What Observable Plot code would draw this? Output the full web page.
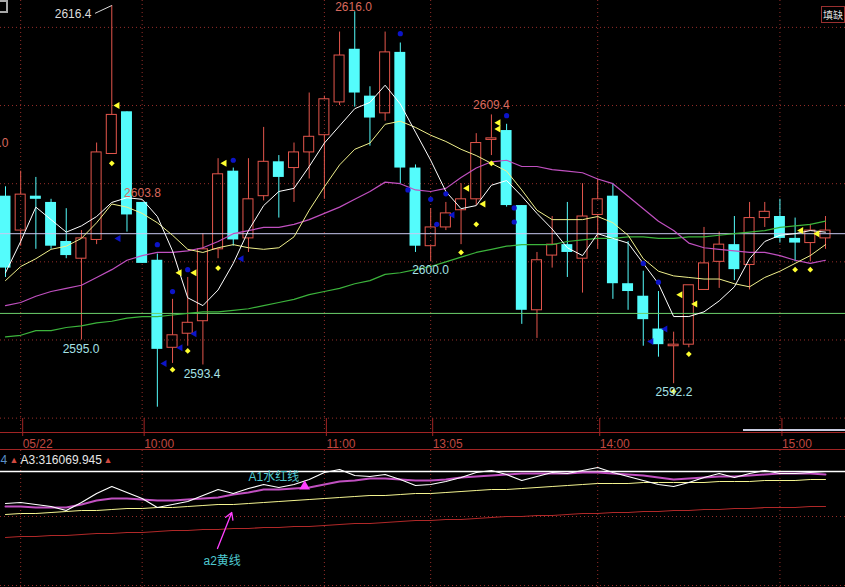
<!DOCTYPE html>
<html><head><meta charset="utf-8">
<script src="https://cdn.jsdelivr.net/npm/d3@7"></script>
<script src="https://cdn.jsdelivr.net/npm/@observablehq/plot@0.6"></script>
<style>
html,body{margin:0;padding:0;background:#000;overflow:hidden}
#wrap{position:relative;width:845px;height:587px;background:#000;overflow:hidden;font-family:"Liberation Sans",Arial,"Noto Sans CJK SC",sans-serif}
#main{position:absolute;left:0;top:0}
#ind{position:absolute;left:0;top:449px;border-top:1px solid #a02424}
#btnL{position:absolute;left:-8px;top:0;width:12px;height:9px;border:2px solid #a8a8a8}
#btnR{position:absolute;left:821px;top:6px;height:15px;padding:0 1px;border:1px solid #9a3030;color:#dcdcdc;font-size:10px;line-height:15px;white-space:nowrap;font-family:"Noto Sans CJK SC",sans-serif}
#scroll{position:absolute;left:743px;top:429px;width:102px;height:2px;background:#c8cce0}
</style></head><body>
<div id="wrap"><div id="main"></div><div id="ind"></div><div id="btnL"></div><div id="btnR">填缺</div><div id="scroll"></div></div>
<script>
// ---- candles (5-minute bars) ----
const opens  = [2604.2,2602.0,2604.2,2603.8,2601.3,2600.2,2601.4,2606.9,2609.6,2603.8,2600.1,2594.5,2595.4,2596.2,2600.8,2605.8,2601.5,2604.2,2606.4,2606.0,2607.0,2608.1,2610.2,2613.6,2610.6,2609.5,2613.4,2606.0,2601.0,2602.2,2603.3,2604.0,2607.8,2608.4,2603.6,2596.9,2600.4,2601.1,2600.2,2603.0,2604.2,2598.6,2597.8,2595.7,2594.6,2594.7,2598.2,2600.0,2601.1,2599.8,2602.8,2602.9,2601.5,2601.2,2601.5];
const highs  = [2604.8,2605.8,2605.4,2604.0,2603.4,2602.0,2607.6,2616.4,2609.6,2603.8,2600.5,2597.6,2599.0,2601.8,2606.6,2606.0,2606.6,2608.6,2606.8,2607.6,2610.8,2610.6,2614.7,2616.0,2611.2,2614.7,2614.0,2606.2,2603.4,2603.8,2605.0,2608.2,2609.4,2608.8,2603.6,2600.6,2602.9,2603.8,2605.0,2605.3,2605.0,2601.3,2599.4,2598.1,2595.5,2598.5,2602.2,2601.9,2602.9,2603.8,2603.8,2604.0,2602.8,2602.4,2602.9];
const lows   = [2599.0,2601.0,2600.8,2600.8,2600.2,2595.0,2601.1,2606.9,2601.9,2599.9,2590.7,2593.5,2594.6,2593.4,2600.2,2601.0,2600.6,2603.9,2602.8,2603.8,2605.3,2604.0,2610.0,2609.9,2607.4,2609.0,2605.0,2600.6,2600.0,2602.0,2601.1,2603.6,2606.8,2603.5,2596.0,2595.1,2599.6,2599.0,2598.0,2600.8,2597.6,2596.9,2594.6,2593.9,2592.2,2594.5,2598.2,2598.3,2598.8,2598.2,2602.2,2601.2,2600.0,2600.0,2600.8];
const closes = [2599.6,2604.3,2604.0,2601.0,2600.4,2601.5,2607.0,2609.4,2603.0,2599.9,2594.4,2595.3,2596.1,2600.8,2605.6,2601.4,2604.0,2606.4,2605.4,2607.0,2608.0,2610.4,2613.2,2610.8,2609.2,2613.4,2606.0,2601.0,2602.2,2603.1,2604.0,2607.6,2607.9,2603.6,2596.9,2600.1,2601.1,2600.6,2602.9,2604.0,2598.6,2598.1,2596.3,2594.7,2594.7,2598.5,2599.9,2601.1,2599.5,2602.8,2603.2,2601.5,2601.2,2602.0,2602.0];
// ---- moving-average lines ----
const maWhite  = [2599.3,2601.3,2603.5,2602.7,2601.9,2602.3,2602.9,2603.8,2604.1,2604.0,2602.9,2600.7,2597.7,2597.2,2598.2,2599.9,2602.0,2603.6,2604.5,2604.7,2606.1,2607.6,2608.7,2609.8,2610.2,2611.3,2610.1,2608.3,2606.5,2604.5,2603.4,2603.6,2604.9,2605.2,2604.2,2603.1,2602.1,2600.9,2600.4,2601.8,2601.5,2601.2,2599.9,2598.6,2596.5,2596.5,2596.8,2597.5,2598.4,2600.2,2601.3,2601.7,2601.8,2602.0,2601.9];
const maYellow = [2598.8,2599.7,2600.2,2600.8,2601.0,2601.5,2602.5,2603.7,2603.5,2603.1,2602.5,2601.7,2600.8,2600.6,2600.9,2601.1,2600.9,2600.8,2600.9,2601.6,2603.3,2604.8,2606.2,2607.2,2607.6,2608.8,2609.0,2608.6,2608.1,2607.7,2607.2,2606.8,2606.3,2605.8,2604.6,2603.3,2602.7,2602.7,2602.7,2602.9,2602.5,2601.7,2600.2,2599.4,2599.1,2599.0,2598.9,2598.9,2598.6,2598.4,2599.0,2599.4,2599.9,2600.4,2601.1];
const maPurple = [2597.2,2597.4,2597.8,2598.1,2598.3,2598.5,2599.0,2599.5,2600.1,2600.4,2600.6,2600.6,2600.7,2600.9,2601.3,2601.8,2602.0,2602.2,2602.2,2602.4,2602.7,2603.1,2603.5,2604.0,2604.5,2605.1,2605.0,2604.6,2604.5,2604.7,2605.4,2606.0,2606.4,2606.5,2606.1,2606.1,2605.9,2605.8,2605.7,2605.3,2605.0,2604.2,2603.4,2602.6,2602.0,2601.2,2600.9,2600.8,2600.7,2600.6,2600.6,2600.4,2600.1,2599.9,2600.1];
const maGreen  = [2595.2,2595.3,2595.6,2595.6,2595.8,2595.9,2596.1,2596.2,2596.4,2596.5,2596.5,2596.6,2596.7,2596.8,2596.8,2596.9,2597.0,2597.2,2597.4,2597.6,2597.9,2598.1,2598.3,2598.6,2598.8,2599.2,2599.3,2599.5,2599.7,2600.0,2600.3,2600.6,2600.8,2601.0,2601.1,2601.1,2601.1,2601.3,2601.4,2601.5,2601.5,2601.6,2601.6,2601.5,2601.5,2601.6,2601.6,2601.7,2601.8,2601.9,2602.0,2602.2,2602.3,2602.4,2602.6];
const refLevels = [2601.8, 2596.7];        // lavender and green horizontal lines
const gridPrices = [2590, 2595, 2600, 2605, 2610, 2615];
// ---- time axis ----
const tickIdx    = [1, 9, 21, 28, 39, 51];
const tickLabels = ["05/22", "10:00", "11:00", "13:05", "14:00", "15:00"];
// ---- signal markers ----
const diamondIdx   = [7, 11, 12, 14, 30, 31, 32, 44, 45, 52, 53];
const diamondPrice = [2606.3, 2593.1, 2594.3, 2599.6, 2600.6, 2602.4, 2606.3, 2591.7, 2594.1, 2599.5, 2599.5];
const blueDotIdx   = [10, 11, 12, 15, 26, 26.5, 28, 28.4, 29, 33, 33.5, 33.5, 42, 43];
const blueDotPrice = [2601.1, 2598.1, 2599.5, 2606.5, 2614.6, 2604.6, 2604.0, 2602.4, 2604.35, 2609.35, 2603.45, 2602.55, 2599.9, 2598.7];
const yTriIdx      = [7.37, 11.46, 12.44, 14.42, 30.4, 31.47, 32.46, 32.46, 44.44, 45.42, 52.4, 53.46];
const yTriPrice    = [2610.0, 2599.3, 2599.3, 2606.3, 2604.7, 2603.7, 2608.9, 2608.5, 2597.9, 2597.3, 2602.0, 2601.8];
const bTriIdx      = [7.44, 10.47, 11.52, 12.44, 15.54, 29.43, 42.53, 43.45];
const bTriPrice    = [2601.5, 2593.5, 2594.5, 2595.4, 2600.2, 2603.0, 2594.9, 2595.7];
// ---- price labels ----
const lblText  = ["2616.4", "2616.0", "2609.4", "2603.8", "2607.0", "2600.0", "2595.0", "2593.4", "2592.2"];
const lblIdx   = [4.45, 22.92, 32.0, 9.02, 0.2, 27.99, 4.97, 12.94, 44.02];
const lblPrice = [2615.82, 2616.3, 2610.0, 2604.37, 2607.57, 2599.45, 2594.39, 2592.79, 2591.64];
const lblKind  = ["hi", "up", "up", "up", "up", "lo", "lo", "lo", "lo"];
// ---- lower indicator panel ----
const indWhite  = [84,85,83,81,77,85,94,101,95,89,80,83,86,92,98,94,99,103,100,103,108,115,118,112,111,113,108,102,103,106,110,115,117,113,107,111,115,114,117,120,115,111,107,103,101,105,110,114,110,114,117,114,114,115,116];
const indPurple = [81,81,80,80,80,83,87,89,89,88,87,87,88,89,90,93,95,98,98,99,100,103,106,107,109,109,108,107,107,108,110,111,112,113,114,114,114,114,115,115,114,113,112,110,108,109,110,111,111,112,113,114,114,114,113];
const indYellow = [73,74,74,75,76,77,77,78,79,79,80,80,81,82,83,83,84,85,86,87,88,89,90,91,92,92,93,94,94,95,96,97,98,98,99,100,101,102,103,104,104,104,105,105,105,105,105,106,106,106,107,107,107,108,108];
const indRed    = [50,51,51,52,52,53,54,54,55,55,56,57,57,58,58,59,59,60,60,61,61,62,63,64,64,65,66,67,67,68,68,69,70,71,71,72,72,73,74,74,75,75,76,76,77,77,78,78,79,79,80,80,80,81,81];
const indTop = 116;
const indGrid = [71, 2];
const headerText = ["4", "A3:316069.945"];
const annText = ["A1水红线", "a2黄线"];
const annIdx = [16.0, 13.04];
const annVal = [110, 26];

// ---------- drawing ----------
const RED = "#e4564c", CYAN = "#54fcfc", GRID = "#962e2a", AXIS = "#a02424";
const FONT = "'Liberation Sans', Arial, 'Noto Sans CJK SC', sans-serif";
const xDomain = [-5 / 15.185, 840 / 15.185];
const K = 15.63;
const yDomain = [2616.4 - 427 / K, 2616.4 + 5 / K];

const candles = opens.map((o, i) => ({i, o, h: highs[i], l: lows[i], c: closes[i], up: closes[i] >= o}));
const ups = candles.filter(d => d.up), downs = candles.filter(d => !d.up);
const series = (arr) => arr.map((v, i) => ({i, v}));
const pts = (xs, ys) => xs.map((x, k) => ({x, y: ys[k]}));
const labels = lblText.map((t, k) => ({t, x: lblIdx[k], y: lblPrice[k], kind: lblKind[k]}));
const lblColor = {hi: "#dcdcdc", up: "#d8685c", lo: "#a6e2e6"};

const main = Plot.plot({
  width: 845, height: 450,
  marginTop: 0, marginRight: 0, marginBottom: 18, marginLeft: 0,
  style: {background: "#000", color: "#ddd", fontFamily: FONT, fontSize: "12px"},
  x: {domain: xDomain, label: null},
  y: {domain: yDomain, axis: null, label: null},
  marks: [
    Plot.ruleY(gridPrices, {stroke: GRID, strokeDasharray: "1,3"}),
    Plot.ruleX(tickIdx, {stroke: GRID, strokeDasharray: "1,3"}),
    Plot.ruleY([yDomain[0]], {stroke: AXIS}),
    Plot.axisX(tickIdx, {tickSize: 18, tickFormat: d => tickLabels[tickIdx.indexOf(d)], stroke: AXIS, fill: "#c04840",
      textAnchor: "start", dx: 2, dy: -14, fontSize: 12, label: null}),
    // wicks
    Plot.ruleX(ups, {x: "i", y1: d => Math.max(d.o, d.c), y2: "h", stroke: RED}),
    Plot.ruleX(ups, {x: "i", y1: "l", y2: d => Math.min(d.o, d.c), stroke: RED}),
    Plot.ruleX(downs, {x: "i", y1: "l", y2: "h", stroke: CYAN}),
    // bodies
    Plot.rect(downs, {x1: d => d.i - 0.36, x2: d => d.i + 0.36, y1: "o", y2: "c", fill: CYAN}),
    Plot.rect(ups, {x1: d => d.i - 0.33, x2: d => d.i + 0.33, y1: "o", y2: "c", fill: "none", stroke: RED}),
    // reference lines
    Plot.ruleY([refLevels[0]], {stroke: "#c8c8f0"}),
    Plot.ruleY([refLevels[1]], {stroke: "#6cd06c"}),
    // MAs
    Plot.line(series(maGreen), {x: "i", y: "v", stroke: "#3cb43c", strokeWidth: 1.2}),
    Plot.line(series(maPurple), {x: "i", y: "v", stroke: "#c050c0", strokeWidth: 1.2}),
    Plot.line(series(maYellow), {x: "i", y: "v", stroke: "#f0f08c", strokeWidth: 1}),
    Plot.line(series(maWhite), {x: "i", y: "v", stroke: "#ffffff", strokeWidth: 1}),
    // markers
    Plot.dot(pts(blueDotIdx, blueDotPrice), {x: "x", y: "y", r: 2.6, fill: "#0c14c8"}),
    Plot.dot(pts(diamondIdx, diamondPrice), {x: "x", y: "y", r: 2.6, symbol: "diamond2", fill: "#ffff30"}),
    Plot.dot(pts(yTriIdx, yTriPrice), {x: "x", y: "y", r: 2.6, symbol: "triangle", rotate: -90, fill: "#ffff30"}),
    Plot.dot(pts(bTriIdx, bTriPrice), {x: "x", y: "y", r: 2.6, symbol: "triangle", rotate: -90, fill: "#0c14c8"}),
    // labels
    Plot.link([{x1: 5.9, y1: 2615.9, x2: 7, y2: 2616.4}], {x1: "x1", y1: "y1", x2: "x2", y2: "y2", stroke: "#dcdcdc"}),
    Plot.text(labels.filter(d => d.t !== "2607.0"), {x: "x", y: "y", text: "t", fill: d => lblColor[d.kind], fontSize: 12, fontFamily: FONT}),
    Plot.text(labels.filter(d => d.t === "2607.0"), {x: "x", y: "y", text: "t", fill: d => lblColor[d.kind], textAnchor: "end", fontSize: 12, fontFamily: FONT})
  ]
});
document.getElementById("main").appendChild(main);

const ind = Plot.plot({
  width: 845, height: 137,
  marginTop: 0, marginRight: 0, marginBottom: 0, marginLeft: 0,
  style: {background: "#000", color: "#ddd", fontFamily: FONT, fontSize: "12px"},
  x: {domain: xDomain, axis: null, label: null},
  y: {domain: [0, 137], axis: null, label: null},
  marks: [
    Plot.ruleY(indGrid, {stroke: GRID, strokeDasharray: "1,3"}),
    Plot.ruleX(tickIdx, {stroke: GRID, strokeDasharray: "1,3"}),
    Plot.ruleY([indTop], {stroke: "#ffffff", strokeWidth: 1.5}),
    Plot.line(series(indRed), {x: "i", y: "v", stroke: "#b02828", strokeWidth: 1.2}),
    Plot.line(series(indYellow), {x: "i", y: "v", stroke: "#f4f490", strokeWidth: 1}),
    Plot.line(series(indPurple), {x: "i", y: "v", stroke: "#c050c0", strokeWidth: 2}),
    Plot.line(series(indWhite), {x: "i", y: "v", stroke: "#ffffff", strokeWidth: 1.2}),
    Plot.text([headerText[0]], {frameAnchor: "top-left", dx: 0, dy: 5, fill: "#5a90c8", fontSize: 12, fontFamily: FONT}),
    Plot.text(["▲"], {frameAnchor: "top-left", dx: 9, dy: 6, fill: "#d04a40", fontSize: 9, fontFamily: FONT}),
    Plot.text([headerText[1]], {frameAnchor: "top-left", dx: 20, dy: 5, fill: "#e6e6e6", fontSize: 12, fontFamily: FONT}),
    Plot.text(["▲"], {frameAnchor: "top-left", dx: 103, dy: 6, fill: "#d04a40", fontSize: 9, fontFamily: FONT}),
    Plot.text(annText.map((t, k) => ({t, x: annIdx[k], y: annVal[k]})), {x: "x", y: "y", text: "t", textAnchor: "start", fill: "#4ec8d0", fontSize: 12, fontFamily: FONT}),
    Plot.arrow([{x1: 13.96, y1: 39, x2: 14.9, y2: 75}], {x1: "x1", y1: "y1", x2: "x2", y2: "y2", stroke: "#ff40ff", strokeWidth: 1.3, headLength: 9}),
    Plot.dot([{x: 19.7, y: 101}], {x: "x", y: "y", r: 4, symbol: "triangle", fill: "#ff40ff"})
  ]
});
document.getElementById("ind").appendChild(ind);
</script>
</body></html>
